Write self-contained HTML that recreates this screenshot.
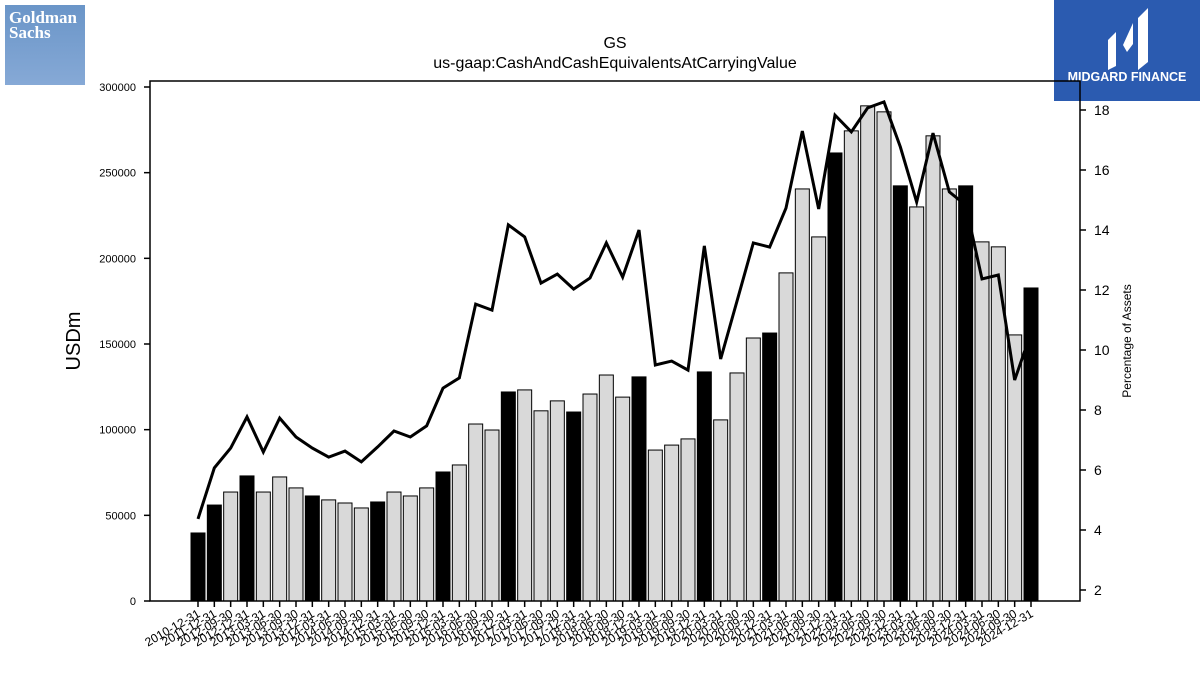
<!DOCTYPE html>
<html><head><meta charset="utf-8"><style>
body{margin:0;background:#fff;font-family:"Liberation Sans",sans-serif}
svg text{font-family:"Liberation Sans",sans-serif}
</style></head><body>
<svg id="c" width="1200" height="675" xmlns="http://www.w3.org/2000/svg">
<defs><linearGradient id="gs" x1="0" y1="0" x2="0" y2="1"><stop offset="0" stop-color="#6a95c8"/><stop offset="1" stop-color="#86a9d6"/></linearGradient></defs>
<g>
<rect x="5" y="5" width="80" height="80" fill="url(#gs)"/>
<text x="9" y="23" font-family="Liberation Serif" font-size="17" font-weight="bold" fill="#fff" style="font-family:'Liberation Serif',serif">Goldman</text>
<text x="9" y="38" font-size="17" font-weight="bold" fill="#fff" style="font-family:'Liberation Serif',serif">Sachs</text>
</g>
<g>
<rect x="1054" y="0" width="146" height="101" fill="#2b5bb0"/>
<path d="M1108 70 V40 l8 -8 V66 Z M1123 45 l10 -22 V44 l-6 8 Z M1138 70 V18 l10 -10 V62 Z" fill="#fff"/>
<text x="1127" y="81" font-size="12.5" font-weight="bold" fill="#fff" text-anchor="middle">MIDGARD FINANCE</text>
</g>
<text x="615" y="48" font-size="16" text-anchor="middle">GS</text>
<text x="615" y="68" font-size="16" text-anchor="middle">us-gaap:CashAndCashEquivalentsAtCarryingValue</text>
<g id="bars"></g><g id="xt"></g><g id="yl"></g><g id="yr"></g>
<polyline id="line" fill="none" stroke="#000" stroke-width="3"/>
<rect x="150" y="81" width="930" height="520" fill="none" stroke="#000" stroke-width="1.5"/>
<text x="80" y="341" font-size="20" text-anchor="middle" transform="rotate(-90 80 341)">USDm</text>
<text x="1131" y="341" font-size="12" text-anchor="middle" transform="rotate(-90 1131 341)">Percentage of Assets</text>
</svg>
<script>
const categories=["2010-12-31","2011-12-31","2012-09-30","2012-12-31","2013-03-31","2013-06-30","2013-09-30","2013-12-31","2014-03-31","2014-06-30","2014-09-30","2014-12-31","2015-03-31","2015-06-30","2015-09-30","2015-12-31","2016-03-31","2016-06-30","2016-09-30","2016-12-31","2017-03-31","2017-06-30","2017-09-30","2017-12-31","2018-03-31","2018-06-30","2018-09-30","2018-12-31","2019-03-31","2019-06-30","2019-09-30","2019-12-31","2020-03-31","2020-06-30","2020-09-30","2020-12-31","2021-03-31","2021-06-30","2021-09-30","2021-12-31","2022-03-31","2022-06-30","2022-09-30","2022-12-31","2023-03-31","2023-06-30","2023-09-30","2023-12-31","2024-03-31","2024-06-30","2024-09-30","2024-12-31"];
const cashValues=[39700,56000,63600,73000,63600,72400,66000,61300,59000,57200,54300,57800,63600,61300,66000,75300,79400,103300,99800,122000,123200,111000,116800,110300,120800,131900,119000,130800,88100,91000,94600,133700,105700,133100,153500,156400,191500,240500,212500,261500,274400,289000,285500,242300,230000,271500,240500,242300,209600,206700,155300,182700];
const pctValues=[4.37,6.07,6.73,7.77,6.6,7.73,7.1,6.73,6.43,6.63,6.27,6.77,7.3,7.1,7.47,8.73,9.07,11.53,11.33,14.17,13.77,12.23,12.53,12.03,12.4,13.57,12.43,14,9.5,9.63,9.33,13.47,9.7,11.63,13.57,13.43,14.73,17.3,14.7,17.83,17.27,18.07,18.27,16.77,14.93,17.23,15.27,14.83,12.37,12.5,9,10.57];
const leftTicks=[0,50000,100000,150000,200000,250000,300000];
const rightTicks=[2,4,6,8,10,12,14,16,18];
const NS="http://www.w3.org/2000/svg";
function mk(t,a,p){const e=document.createElementNS(NS,t);for(const k in a)e.setAttribute(k,a[k]);p.appendChild(e);return e;}
const x0=198,step=(1031-198)/(categories.length-1);
const xs=i=>x0+i*step;
const yL=v=>601-v*514/300000;
const yR=v=>590-(v-2)*30;
const bg=document.getElementById('bars'),xt=document.getElementById('xt'),yl=document.getElementById('yl'),yr=document.getElementById('yr');
categories.forEach((c,i)=>{
 const annual=c.endsWith('12-31');
 const r=mk('rect',{x:xs(i)-7,y:yL(cashValues[i]),width:14,height:601-yL(cashValues[i]),fill:annual?'#000':'#d9d9d9',stroke:'#000','stroke-width':1},bg);
 
 
 const tk=mk('line',{x1:xs(i),x2:xs(i),y1:601,y2:607,stroke:'#000','stroke-width':1.5},xt);
 
 
 const t=mk('text',{x:xs(i)+3,y:616,'font-size':12,'text-anchor':'end',transform:`rotate(-30 ${xs(i)+3} 616)`},xt);
 t.textContent=c;
 
 
});
leftTicks.forEach(v=>{
 const l=mk('line',{x1:144,x2:150,y1:yL(v),y2:yL(v),stroke:'#000','stroke-width':1.5},yl);
 
 
 const t=mk('text',{x:136,y:yL(v)+4,'font-size':11,'text-anchor':'end'},yl);
 t.textContent=v;
 
 
});
rightTicks.forEach(v=>{
 const l=mk('line',{x1:1080,x2:1086,y1:yR(v),y2:yR(v),stroke:'#000','stroke-width':1.5},yr);
 
 
 const t=mk('text',{x:1094,y:yR(v)+5,'font-size':14},yr);
 t.textContent=v;
 
 
});
document.getElementById('line').setAttribute('points',pctValues.map((v,i)=>xs(i)+','+yR(v)).join(' '));
</script>
</body></html>
